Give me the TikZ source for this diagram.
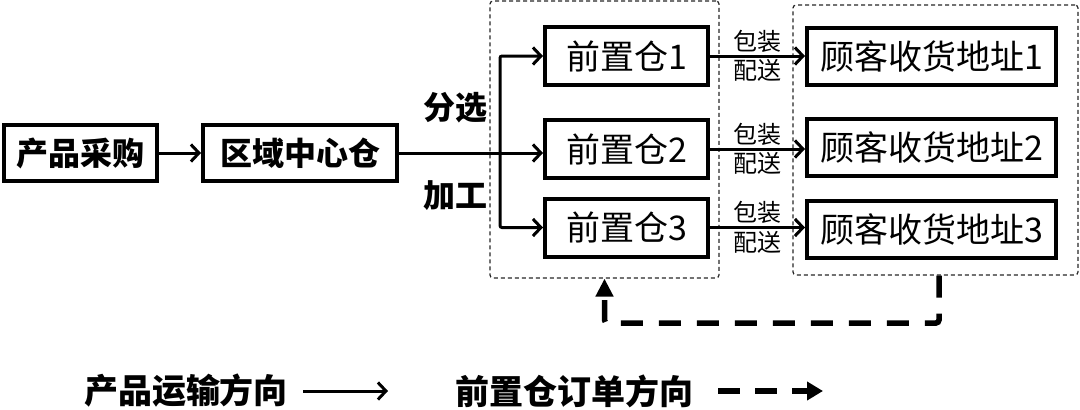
\documentclass[tikz,border=0pt]{standalone}
\usepackage{fontspec}
\newfontfamily\cjk{Noto Sans CJK SC}
\usetikzlibrary{arrows.meta,positioning}
\tikzset{
  box/.style={draw,fill=white,line width=4pt,inner sep=0pt,minimum height=57pt,font=\cjk\fontsize{34}{40}\selectfont},
  boldbox/.style={box,minimum height=56pt,font=\cjk\bfseries\fontsize{32}{38}\selectfont},
  group/.style={draw=black!85,dash pattern=on 4pt off 3pt,line width=1.2pt,rounded corners=3pt},
  flow/.style={-{Straight Barb[length=8pt,width=17pt,line width=3pt]},line width=3pt},
  order/.style={-{Triangle[length=18pt,width=17pt]},line width=5.5pt,dash pattern=on 22pt off 16pt},
  note/.style={font=\cjk\fontsize{24}{28}\selectfont,inner sep=2pt},
  step label/.style={font=\cjk\bfseries\fontsize{32}{38}\selectfont,inner sep=0pt},
  legend/.style={font=\cjk\bfseries\fontsize{34}{40}\selectfont,inner sep=0pt}
}
\begin{document}
\begin{tikzpicture}[x=1pt,y=-1pt]
  \useasboundingbox (0,0) rectangle (1080,410);
  % dashed groups
  \node[group,minimum width=229pt,minimum height=277pt] (grpA) at (604.5,139.5) {};
  \node[group,minimum width=285pt,minimum height=270pt] (grpB) at (935.5,140) {};

  \node[boldbox,minimum width=153pt] (buy) at (80.5,153) {产品采购};
  \node[boldbox,minimum width=194pt] (hub) at (300,153) {区域中心仓};

  \node[box,minimum width=163pt,minimum height=58pt] (fw1) at (626.5,56) {前置仓1};
  \node[box,minimum width=163pt,minimum height=58pt] (fw2) at (626.5,149) {前置仓2};
  \node[box,minimum width=163pt,minimum height=58pt] (fw3) at (626.5,227.5) {前置仓3};

  \node[box,minimum width=249pt] (cust1) at (931.5,56.5) {顾客收货地址1};
  \node[box,minimum width=249pt] (cust2) at (931.5,147.5) {顾客收货地址2};
  \node[box,minimum width=249pt] (cust3) at (931.5,229.5) {顾客收货地址3};

  \node[step label] (sort) at (455,107.5) {分选};
  \node[step label] (work) at (455,196) {加工};

  \draw[flow] (buy.east) -- (hub.west);
  \coordinate (split) at (500,153);
  \draw[flow] (hub.east) -- (hub.east -| fw2.west);
  \draw[flow,rounded corners=2pt] (split) |- (fw1.west);
  \draw[flow,rounded corners=2pt] (split) |- (fw3.west);

  \foreach \i in {1,2,3}
    \draw[flow] (fw\i.east) -- node[note,above] (pack\i) {包装} node[note,below] (ship\i) {配送} (fw\i.east -| cust\i.west);

  % order direction back to the warehouses
  \coordinate (bend) at (604.5,323);
  \draw[order,rounded corners=3pt] ([xshift=3.5pt]grpB.south) |- (bend) -- (grpA.south);

  % legend
  \node[legend] (legA) at (186,391) {产品运输方向};
  \coordinate (legAend) at (388,391);
  \draw[flow] ([xshift=15pt]legA.east) -- (legAend);
  \node[legend] (legB) at (574,391) {前置仓订单方向};
  \coordinate (legBend) at (823,391);
  \draw[-{Triangle[length=16pt,width=18pt]},line width=6pt,dash pattern=on 22pt off 15pt] ([xshift=25pt]legB.east) -- (legBend);
\end{tikzpicture}
\end{document}
